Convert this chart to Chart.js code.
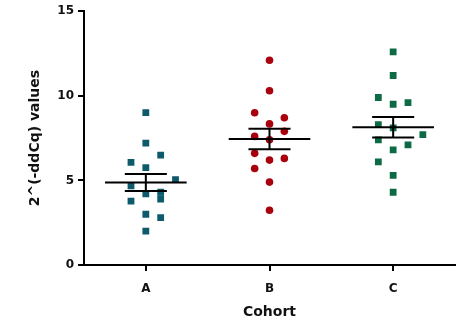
<!DOCTYPE html>
<html>
<head>
<meta charset="utf-8">
<script src="https://cdn.jsdelivr.net/npm/chart.js@4/dist/chart.umd.min.js"></script>
<style>
  html, body { margin: 0; padding: 0; background: #fff; }
</style>
</head>
<body>
<canvas id="cohortChart" width="469" height="322"></canvas>
<script>
// data
const cohorts = ['A', 'B', 'C'];
const valuesA = [9.0, 7.2, 6.5, 6.06, 5.76, 5.04, 4.68, 4.2, 4.3, 3.9, 3.78, 3.0, 2.8, 2.0];
const valuesB = [12.1, 10.3, 9.0, 8.7, 8.34, 7.9, 7.6, 7.4, 6.6, 6.2, 6.3, 5.7, 4.9, 3.24];
const valuesC = [12.6, 11.2, 9.9, 9.5, 9.6, 8.3, 8.1, 7.7, 7.4, 7.1, 6.8, 6.1, 5.3, 4.3];
// scatter column of each point (-1 left, 0 centre, 1 right ...)
const columnsA = [0, 0, 1, -1, 0, 2, -1, 0, 1, 1, -1, 0, 1, 0];
const columnsB = [0, 0, -1, 1, 0, 1, -1, 0, -1, 0, 1, -1, 0, 0];
const columnsC = [0, 0, -1, 0, 1, -1, 0, 2, -1, 1, 0, -1, 0, 0];
const yTicks = [0, 5, 10, 15];

const groups = [
  { values: valuesA, cols: columnsA, color: '#0c5a6c', style: 'rect', r: 4.8 },
  { values: valuesB, cols: columnsB, color: '#a8000c', style: 'circle', r: 3.8 },
  { values: valuesC, cols: columnsC, color: '#0c6a44', style: 'rect', r: 4.8 }
];

const colStep = 0.12;
const meanHalf = 0.33;
const semHalf = 0.17;

function mean(arr) {
  return arr.reduce((a, b) => a + b, 0) / arr.length;
}
function sem(arr) {
  const m = mean(arr);
  const v = arr.reduce((a, b) => a + (b - m) * (b - m), 0) / (arr.length - 1);
  return Math.sqrt(v) / Math.sqrt(arr.length);
}

const datasets = [];
groups.forEach((g, i) => {
  datasets.push({
    type: 'scatter',
    data: g.values.map((v, k) => ({ x: i + g.cols[k] * colStep, y: v })),
    backgroundColor: g.color,
    borderColor: g.color,
    pointStyle: g.style,
    pointRadius: g.r,
    pointBorderWidth: 0,
    order: 2
  });
});

// mean and SEM bars
groups.forEach((g, i) => {
  const m = mean(g.values);
  const s = sem(g.values);
  const segs = [
    [[i - meanHalf, m], [i + meanHalf, m]],
    [[i - semHalf, m + s], [i + semHalf, m + s]],
    [[i - semHalf, m - s], [i + semHalf, m - s]],
    [[i, m - s], [i, m + s]]
  ];
  segs.forEach(seg => {
    datasets.push({
      type: 'line',
      data: seg.map(p => ({ x: p[0], y: p[1] })),
      borderColor: '#000',
      borderWidth: 2,
      pointRadius: 0,
      fill: false,
      order: 1
    });
  });
});

const fontFamily = '"DejaVu Sans", Arial, sans-serif';

const ctx = document.getElementById('cohortChart').getContext('2d');
const cohortChart = new Chart(ctx, {
  type: 'scatter',
  data: { datasets: datasets },
  options: {
    responsive: false,
    animation: false,
    layout: { padding: { left: 0, top: 9, right: 14, bottom: 0 } },
    plugins: {
      legend: { display: false },
      tooltip: { enabled: false }
    },
    scales: {
      x: {
        type: 'linear',
        min: -0.5,
        max: 2.5,
        afterBuildTicks: function (scale) {
          scale.ticks = cohorts.map((c, i) => ({ value: i }));
        },
        afterFit: function (scale) { scale.height = 57; },
        ticks: {
          callback: function (val) { return cohorts[val]; },
          color: '#111',
          font: { family: fontFamily, size: 12, weight: 'bold' },
          padding: 11
        },
        grid: {
          display: true,
          drawOnChartArea: false,
          drawTicks: true,
          tickLength: 6,
          color: '#000',
          lineWidth: 2
        },
        border: { display: true, color: '#000', width: 2 },
        title: {
          display: true,
          text: 'Cohort',
          color: '#111',
          font: { family: fontFamily, size: 14, weight: 'bold' },
          padding: { top: 0, bottom: 1 }
        }
      },
      y: {
        min: 0,
        max: 15,
        afterBuildTicks: function (scale) {
          scale.ticks = yTicks.map(v => ({ value: v }));
        },
        afterFit: function (scale) { scale.width = 84; },
        ticks: {
          color: '#111',
          font: { family: fontFamily, size: 12, weight: 'bold' },
          padding: 4
        },
        grid: {
          display: true,
          drawOnChartArea: false,
          drawTicks: true,
          tickLength: 6,
          color: '#000',
          lineWidth: 2
        },
        border: { display: true, color: '#000', width: 2 },
        title: {
          display: true,
          text: '2^(-ddCq) values',
          color: '#111',
          font: { family: fontFamily, size: 14, weight: 'bold' },
          padding: { top: 27, bottom: 0 }
        }
      }
    }
  }
});
</script>
</body>
</html>
